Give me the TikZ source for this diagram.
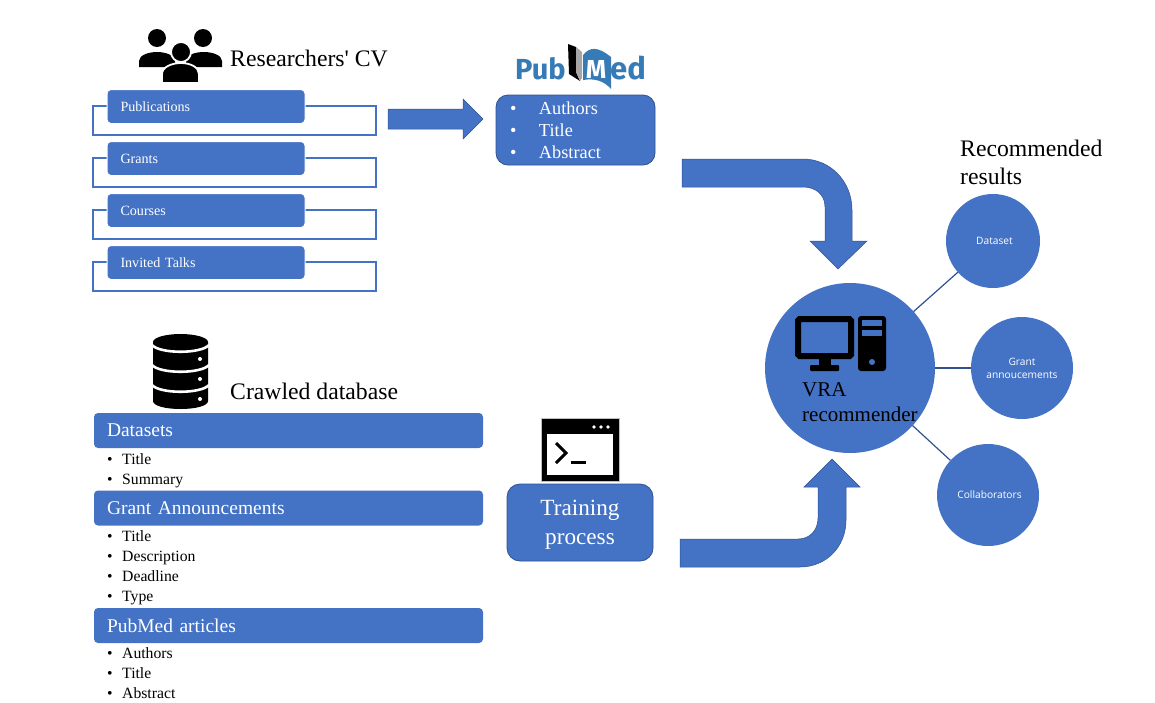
\documentclass[tikz,border=0pt]{standalone}
\usepackage{fontspec}
\setmainfont{Liberation Serif}
\newfontfamily\uifont{Open Sans}
\newfontfamily\logofont{Fira Sans}
\usepackage{xcolor}
\definecolor{vrablue}{RGB}{68,114,196}
\definecolor{vraedge}{RGB}{47,82,143}
\definecolor{pubblue}{RGB}{54,123,181}
\usetikzlibrary{positioning}
\newcommand{\lineitem}[2]{\makebox[#1][l]{\textbullet}#2}

\begin{document}
\begin{tikzpicture}[x=1pt,y=-1pt,
    title/.style={anchor=base west, inner sep=0pt, align=left,
      font=\fontsize{23.7}{28}\selectfont},
    cvback/.style={rectangle, draw=vrablue, line width=1.1pt, anchor=north west,
      minimum width=283pt, minimum height=29pt, inner sep=0pt, outer sep=0pt},
    cvbox/.style={rectangle, rounded corners=4pt, fill=vrablue, draw=white, line width=1pt,
      minimum width=198pt, minimum height=34pt, text width=171pt, inner xsep=13pt,
      align=left, text=white, font=\fontsize{14.1}{16}\selectfont},
    bar/.style={rectangle, rounded corners=4pt, fill=vrablue,
      minimum width=389pt, minimum height=35pt, text width=363pt, inner xsep=13pt,
      align=left, text=white, font=\fontsize{19.5}{22}\selectfont},
    fields/.style={anchor=west, inner sep=0pt, align=left,
      font=\fontsize{15.7}{20}\selectfont},
    blue box/.style={rectangle, rounded corners=13pt, fill=vrablue, draw=vraedge, line width=0.8pt,
      text=white, align=left},
    result/.style={circle, fill=vrablue, inner sep=0pt, outer sep=0pt, text=white, align=center,
      font=\uifont\fontsize{10.2}{13}\selectfont},
    link/.style={draw=vraedge, line width=1.2pt},
    block/.style={fill=vrablue, draw=vraedge, line width=0.5pt}
  ]
    \useasboundingbox (0,0) rectangle (1155,702);

    % Researchers
    \fill (157,38) circle[radius=9];
    \fill (203,38) circle[radius=9];
    \fill (139,67) -- (139,61) .. controls (139,55) and (149,52) .. (157,52)
      .. controls (165,52) and (175,55) .. (175,61) -- (175,67) -- cycle;
    \fill (186,67) -- (186,61) .. controls (186,55) and (195,52) .. (204,52)
      .. controls (212,52) and (222,55) .. (222,61) -- (222,67) -- cycle;
    \filldraw[draw=white, line width=1.8pt] (181,52) circle[radius=10];
    \filldraw[draw=white, line width=1.8pt] (162,83) -- (162,74) .. controls (162,67) and (172,63) .. (181,63)
      .. controls (190,63) and (199,67) .. (199,74) -- (199,83) -- cycle;
    \node[title] (cvtitle) at (230,66) {Researchers\textquotesingle{} CV};

    \foreach \n/\y/\t in {pub/106/Publications, grant/158/Grants, course/210/Courses, talk/262/Invited Talks}{
      \node[cvback] (back\n) at (93,\y) {};
      \node[cvbox] (box\n) at (206,\y+0.5) {\t};
    }

    % Top arrow
    \draw[block] (388,109) -- (463,109) -- (463,99) -- (483,119) -- (463,139) -- (463,129) -- (388,129) -- cycle;

    % PubMed logo
    \node[anchor=base west, inner sep=0pt, text=pubblue, font=\logofont\bfseries\fontsize{29}{29}\selectfont] (logopub) at (515,79) {Pub};
    \fill (568,44) -- (576,47) -- (576,72) -- (580,81) -- (569,74) -- cycle;
    \fill[black!35] (576,47) -- (582,52) -- (582,78) -- (580,81) -- (576,72) -- cycle;
    \fill[pubblue] (583,55) .. controls (590,47) and (597,46) .. (611,57) -- (611,89)
      .. controls (604,81) and (595,78) .. (583,80) -- cycle;
    \node[inner sep=0pt, text=white, font=\logofont\bfseries\fontsize{26}{26}\selectfont] (logom) at (596,69) {M};
    \node[anchor=base west, inner sep=0pt, text=pubblue, font=\logofont\bfseries\fontsize{31}{31}\selectfont] (logoed) at (610,79) {ed};

    % PubMed fields
    \node[blue box, rounded corners=12pt, minimum width=159pt, minimum height=70pt, text width=131pt, inner xsep=14pt,
      font=\fontsize{18.3}{22}\selectfont] (pubfields) at (575.5,130)
      {\lineitem{29pt}{Authors}\\\lineitem{29pt}{Title}\\\lineitem{29pt}{Abstract}};

    % Database
    \fill (153,342) -- (153,401) .. controls (153,406) and (166,409) .. (180.5,409)
      .. controls (195,409) and (208,406) .. (208,401) -- (208,342) -- cycle;
    \fill (180.5,342) ellipse[x radius=27.5, y radius=8];
    \foreach \y in {345,365,385}{
      \draw[white, line width=2.6pt] (152,\y) .. controls (160,\y+9) and (201,\y+9) .. (209,\y);
    }
    \foreach \y in {359,379,399}{
      \fill[white] (200,\y) circle[radius=2];
    }
    \node[title] (dbtitle) at (230,399) {Crawled database};

    % Database tables
    \node[bar] (datasets) at (288.5,430.5) {Datasets};
    \node[fields] (datasetfields) at (107,470.5) {\lineitem{15pt}{Title}\\\lineitem{15pt}{Summary}};
    \node[bar] (grants) at (288.5,508) {Grant Announcements};
    \node[fields] (grantfields) at (107,568) {\lineitem{15pt}{Title}\\\lineitem{15pt}{Description}\\\lineitem{15pt}{Deadline}\\\lineitem{15pt}{Type}};
    \node[bar] (articles) at (288.5,625.5) {PubMed articles};
    \node[fields] (articlefields) at (107,673) {\lineitem{15pt}{Authors}\\\lineitem{15pt}{Title}\\\lineitem{15pt}{Abstract}};

    % Terminal
    \filldraw[draw=black!25, line width=0.6pt, fill=black] (541,418) rectangle (619,481);
    \fill[white] (547,434) rectangle (613,475);
    \foreach \x in {594,601,608}{
      \fill[white] (\x,427) circle[radius=1.8];
    }
    \draw[line width=3pt] (556,443) -- (566,453) -- (556,463);
    \draw[line width=3pt] (571,462) -- (586,462);

    \node[blue box, minimum width=146pt, minimum height=77pt, align=center,
      font=\fontsize{23.2}{29}\selectfont] (training) at (580,522.5) {\rule{0pt}{20pt}Training\\process};

    % Curved arrows
    \draw[block] (682,159) -- (803,159) .. controls (830,159) and (852,181) .. (852,210) -- (852,241) -- (867,241)
      -- (838,269) -- (810,241) -- (825,241) -- (825,207) .. controls (825,194) and (815,187) .. (803,187)
      -- (682,187) -- cycle;
    \draw[block] (680,539) -- (798,539) .. controls (810,539) and (818,530) .. (818,518) -- (818,487) -- (804,487)
      -- (832,459) -- (860,487) -- (846,487) -- (846,520) .. controls (846,547) and (826,567) .. (800,567)
      -- (680,567) -- cycle;

    % Recommender and results
    \node[result, minimum size=170pt] (vra) at (850,368) {};
    \node[result, minimum size=94pt] (dataset) at (993,241) {\hspace*{3pt}Dataset};
    \node[result, minimum size=102pt] (announce) at (1022,368) {Grant\\annoucements};
    \node[result, minimum size=102pt] (collab) at (988,495) {\hspace*{3pt}Collaborators};
    \draw[link] (vra) -- (dataset);
    \draw[link] (vra) -- (announce);
    \draw[link] (vra) -- (collab);

    % Computer
    \filldraw[fill=vrablue, draw=black, line width=6pt, rounded corners=1.5pt] (798,319) rectangle (851,356);
    \fill (819,359) rectangle (831,366);
    \fill[rounded corners=1pt] (810,365) rectangle (839,371);
    \fill[rounded corners=3pt] (858,316) rectangle (886,371);
    \fill[vrablue] (862,320) rectangle (882,326);
    \fill[vrablue] (862,330) rectangle (882,336);
    \fill[vrablue] (872,362) circle[radius=3];
    \node[anchor=west, inner sep=0pt, align=left, font=\fontsize{21}{25}\selectfont] (vralabel) at (802,402.5) {VRA\\recommender};

    \node[title, anchor=west] (resulttitle) at (960,162) {Recommended\\results};
  \end{tikzpicture}
\end{document}
